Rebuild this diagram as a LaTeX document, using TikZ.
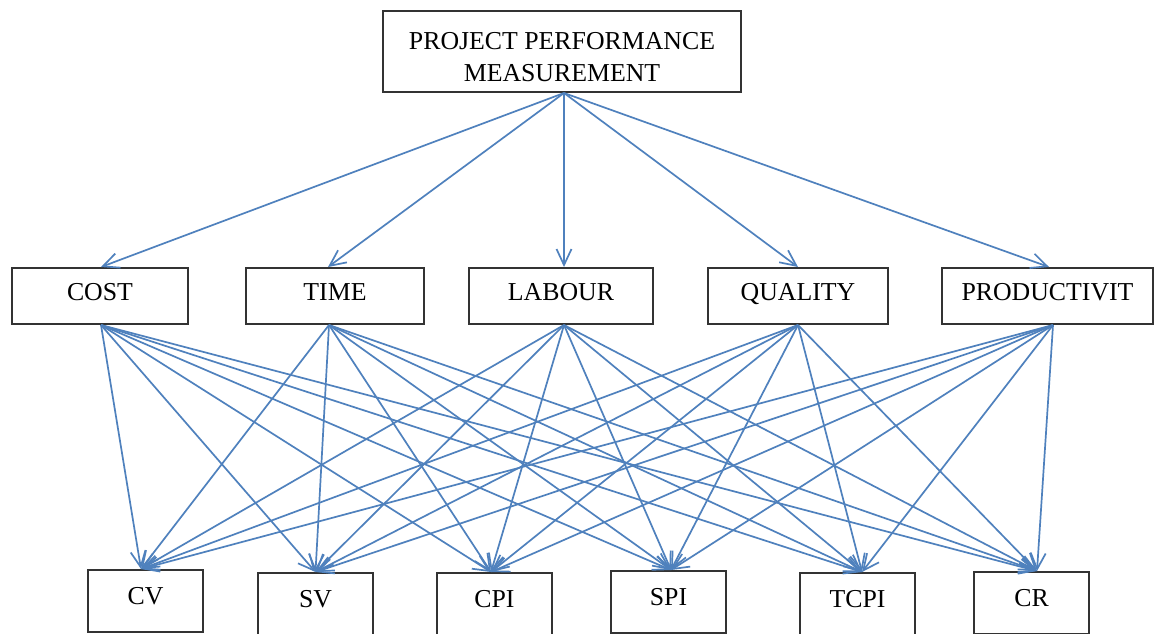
\documentclass[tikz,border=0pt]{standalone}
\usepackage{fontspec}
\setmainfont{Liberation Serif}
\usetikzlibrary{arrows.meta}
\definecolor{arrowblue}{RGB}{79,129,189}
\begin{document}
\begin{tikzpicture}[x=0.5pt,y=-0.5pt,
  box/.style={draw=black!80,line width=1pt,rectangle,inner sep=0pt,anchor=north west,
    font=\fontsize{12.9}{16}\selectfont},
  midbox/.style={box,minimum height=28pt,text height=16pt,text depth=12pt},
  lowbox/.style={box,minimum width=57.5pt,minimum height=31pt,text height=17pt,text depth=14pt},
  conn/.style={draw=arrowblue,line width=0.85pt,-{Straight Barb[length=8pt,width=7.5pt]}}]
\useasboundingbox (0,0) rectangle (1159,633);
\fill[white] (0,0) rectangle (1159,633);

\node[box,minimum width=179pt,minimum height=40.5pt,text height=35pt,text depth=5.5pt] (top) at (382,10)
  {\begin{tabular}[b]{@{}c@{}}PROJECT PERFORMANCE\\MEASUREMENT\end{tabular}};

\node[midbox,minimum width=88pt]    (cost)    at (11,267)  {COST};
\node[midbox,minimum width=89pt]    (time)    at (245,267) {TIME};
\node[midbox,minimum width=92pt]    (labour)  at (468,267) {LABOUR};
\node[midbox,minimum width=90pt]    (quality) at (707,267) {QUALITY};
\node[midbox,minimum width=105.5pt] (prod)    at (941,267) {PRODUCTIVIT};

\node[lowbox] (cv)   at (87,569)  {CV};
\node[lowbox] (sv)   at (257,572) {SV};
\node[lowbox] (cpi)  at (436,572) {CPI};
\node[lowbox] (spi)  at (610,570) {SPI};
\node[lowbox] (tcpi) at (799,572) {TCPI};
\node[lowbox] (cr)   at (973,571) {CR};

\foreach \t/\tx in {cost/0.5,time/-3.5,labour/1.5,quality/0,prod/0.75}
  \draw[conn] ([xshift=1pt]top.south) -- ([xshift=\tx pt]\t.north);

\foreach \s/\sx in {cost/0.5,time/-3,labour/1.5,quality/0,prod/2.75}
  \foreach \t/\tx in {cv/-2.25,sv/0,cpi/-1.75,spi/1.25,tcpi/2.25,cr/2.75}
    \draw[conn] ([xshift=\sx pt]\s.south) -- ([xshift=\tx pt]\t.north);
\end{tikzpicture}
\end{document}
